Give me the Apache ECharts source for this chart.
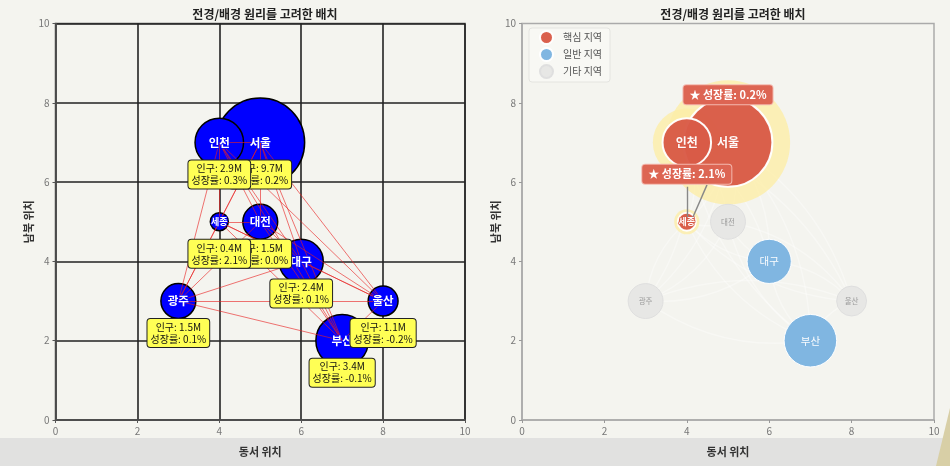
<!DOCTYPE html>
<html>
<head>
<meta charset="utf-8">
<script src="https://cdn.jsdelivr.net/npm/echarts@6/dist/echarts.min.js"></script>
<style>
html,body{margin:0;padding:0;background:#f4f4ef;}
#c{width:950px;height:466px;}
</style>
</head>
<body>
<div id="c"></div>
<script>
// ---- data ----
const cities = ['서울','부산','인천','대구','대전','광주','울산','세종'];
const eastWest = [5, 7, 4, 6, 5, 3, 8, 4];
const northSouth = [7, 2, 7, 4, 5, 3, 3, 5];
const population = [9.7, 3.4, 2.9, 2.4, 1.5, 1.5, 1.1, 0.4];
const growth = [0.2, -0.1, 0.3, 0.1, 0.0, 0.1, -0.2, 2.1];
const regionType = ['핵심 지역','일반 지역','핵심 지역','일반 지역','기타 지역','기타 지역','기타 지역','핵심 지역'];
const regionNames = ['핵심 지역','일반 지역','기타 지역'];
const starred = ['서울','세종'];
const starOffset = 1.2;
const ticks = [0, 2, 4, 6, 8, 10];
const chartTitle = '전경/배경 원리를 고려한 배치';
const xName = '동서 위치';
const yName = '남북 위치';

// ---- helpers ----
const sizeOf = p => 28.5 * Math.sqrt(p);
const pts = cities.map((c, i) => [eastWest[i], northSouth[i], population[i], c, growth[i], regionType[i]]);
const pairs = [];
for (let i = 0; i < cities.length; i++)
  for (let j = i + 1; j < cities.length; j++)
    pairs.push({coords: [[eastWest[i], northSouth[i]], [eastWest[j], northSouth[j]]]});

const regionStyle = {
  '핵심 지역': {color: '#d95b47', border: '#ffffff', bw: 2, label: {color: '#fff', fontSize: 12, fontWeight: 'bold', textBorderColor: '#d95b47', textBorderWidth: 1.5}, small: 9},
  '일반 지역': {color: '#7cb4e0', border: '#ffffff', bw: 1, label: {color: '#fff', fontSize: 10.5}, small: 9},
  '기타 지역': {color: '#e6e6e4', border: '#dedede', bw: 1, label: {color: '#9a9a9a', fontSize: 7.5}, small: 7}
};

function axisPair(idx, dark) {
  const common = {
    type: 'value', gridIndex: idx, min: ticks[0], max: ticks[ticks.length - 1], interval: ticks[1] - ticks[0],
    nameLocation: 'middle',
    nameTextStyle: {fontSize: 11, fontWeight: 'bold', color: '#333'},
    axisLine: {show: true, lineStyle: {color: dark ? '#555' : '#aaa', width: 1.5}},
    axisTick: {show: true, length: 3, lineStyle: {color: dark ? '#555' : '#999'}},
    axisLabel: {color: '#777', fontSize: 10, margin: 6},
    splitLine: {show: dark, lineStyle: {color: '#222', width: 1.6}}
  };
  return [Object.assign({}, common, {name: xName, nameGap: 26}),
          Object.assign({}, common, {name: yName, nameGap: 18, nameRotate: 90})];
}
const [x0, y0] = axisPair(0, true);
const [x1, y1] = axisPair(1, false);

const series = [];
const clear = {color: 'rgba(0,0,0,0)', opacity: 1};

// ---- left panel ----
series.push({
  type: 'scatter', xAxisIndex: 0, yAxisIndex: 0, z: 2, silent: true,
  data: pts, symbolSize: v => sizeOf(v[2]),
  itemStyle: {color: '#0000ff', borderColor: '#000', borderWidth: 1.5, opacity: 1}
});
series.push({
  type: 'lines', coordinateSystem: 'cartesian2d', xAxisIndex: 0, yAxisIndex: 0, z: 3, silent: true,
  data: pairs, lineStyle: {color: '#e82020', width: 1, opacity: 0.62}
});
series.push({
  type: 'scatter', xAxisIndex: 0, yAxisIndex: 0, z: 4, silent: true,
  data: pts.map(p => ({value: p, label: sizeOf(p[2]) < 25 ? {fontSize: 9} : {}})),
  symbolSize: 1, itemStyle: clear,
  label: {show: true, position: 'inside', formatter: p => p.value[3], color: '#fff', fontWeight: 'bold', fontSize: 11.5,
    textBorderColor: '#0000ff', textBorderWidth: 1.5}
});
series.push({
  type: 'scatter', xAxisIndex: 0, yAxisIndex: 0, z: 5, silent: true,
  data: pts, symbolSize: 1, itemStyle: clear,
  label: {show: true, position: 'inside', offset: [0, 32],
    formatter: p => '인구: ' + p.value[2].toFixed(1) + 'M\n성장률: ' + p.value[4].toFixed(1) + '%',
    color: '#111', fontSize: 10, lineHeight: 12, align: 'center',
    backgroundColor: '#ffff55', borderColor: '#222', borderWidth: 1, borderRadius: 3, padding: [2, 3]}
});

// ---- right panel ----
series.push({
  type: 'lines', coordinateSystem: 'cartesian2d', xAxisIndex: 1, yAxisIndex: 1, z: 1, silent: true,
  data: pairs, lineStyle: {color: '#ffffff', width: 1.5, opacity: 0.35, curveness: 0.2}
});
series.push({
  type: 'scatter', xAxisIndex: 1, yAxisIndex: 1, z: 2, silent: true,
  data: pts.filter(p => p[5] === '핵심 지역'), symbolSize: v => sizeOf(v[2]) * 1.4,
  itemStyle: {color: '#fdeea8', opacity: 0.8}
});
regionNames.forEach(r => {
  const st = regionStyle[r];
  series.push({
    name: r, type: 'scatter', xAxisIndex: 1, yAxisIndex: 1, z: 3, silent: true,
    data: pts.filter(p => p[5] === r).map(p => ({value: p, label: sizeOf(p[2]) < 25 ? {fontSize: st.small} : {}})),
    symbolSize: v => sizeOf(v[2]),
    itemStyle: {color: st.color, borderColor: st.border, borderWidth: st.bw, opacity: 0.97},
    label: Object.assign({show: true, position: 'inside', formatter: p => p.value[3]}, st.label)
  });
});
const starPts = pts.filter(p => starred.includes(p[3]));
const connectorOffsets = [[0, 0.12, 0, 0.88], [0.15, 0.12, 0.49, 0.93]];
const sj = pts[cities.indexOf('세종')];
series.push({
  type: 'lines', coordinateSystem: 'cartesian2d', xAxisIndex: 1, yAxisIndex: 1, z: 4, silent: true,
  data: connectorOffsets.map(o => ({coords: [[sj[0] + o[0], sj[1] + o[1]], [sj[0] + o[2], sj[1] + o[3]]]})),
  lineStyle: {color: '#888', width: 1.4, opacity: 1}
});
series.push({
  type: 'scatter', xAxisIndex: 1, yAxisIndex: 1, z: 5, silent: true,
  data: starPts.map(p => [p[0], p[1] + starOffset, p[4]]), symbolSize: 1, itemStyle: clear,
  label: {show: true, position: 'inside', formatter: p => '★ 성장률: ' + p.value[2].toFixed(1) + '%',
    color: '#fff', fontWeight: 'bold', fontSize: 11, backgroundColor: '#dd6553',
    borderColor: '#f3b8ae', borderWidth: 1, borderRadius: 3, padding: [4, 6]}
});

const option = {
  animation: false,
  backgroundColor: '#f4f4ef',
  textStyle: {fontFamily: '"Noto Sans CJK KR", "Noto Sans", sans-serif'},
  title: [
    {text: chartTitle, left: 260, top: 3, textAlign: 'center', textStyle: {fontSize: 12, fontWeight: 'bold', color: '#222'}},
    {text: chartTitle, left: 728, top: 3, textAlign: 'center', textStyle: {fontSize: 12, fontWeight: 'bold', color: '#222'}}
  ],
  legend: {
    data: regionNames, orient: 'vertical', left: 529, top: 28, icon: 'circle',
    itemWidth: 13, itemHeight: 13, itemGap: 2, padding: [2, 8, 3, 10],
    backgroundColor: 'rgba(255,255,255,0.35)', borderColor: '#e4e4e0', borderWidth: 1, borderRadius: 3,
    textStyle: {fontSize: 10, color: '#555', padding: [0, 0, 0, 5]}
  },
  graphic: [
    {type: 'rect', z: -10, shape: {x: 0, y: 438, width: 950, height: 28}, style: {fill: '#e1e1e0'}},
    {type: 'polygon', z: -9, shape: {points: [[936, 466], [950, 408], [950, 466]]}, style: {fill: '#d8cfa6'}}
  ],
  grid: [
    {left: 55.5, top: 23.5, right: 485, bottom: 46, show: true, borderColor: '#555', borderWidth: 1.5, backgroundColor: 'transparent', outerBoundsMode: 'none'},
    {left: 522, top: 23.5, right: 16, bottom: 46, show: true, borderColor: '#aaa', borderWidth: 1.5, backgroundColor: 'transparent', outerBoundsMode: 'none'}
  ],
  xAxis: [x0, x1],
  yAxis: [y0, y1],
  series: series
};
const chart = echarts.init(document.getElementById('c'));
chart.setOption(option);
</script>
</body>
</html>
